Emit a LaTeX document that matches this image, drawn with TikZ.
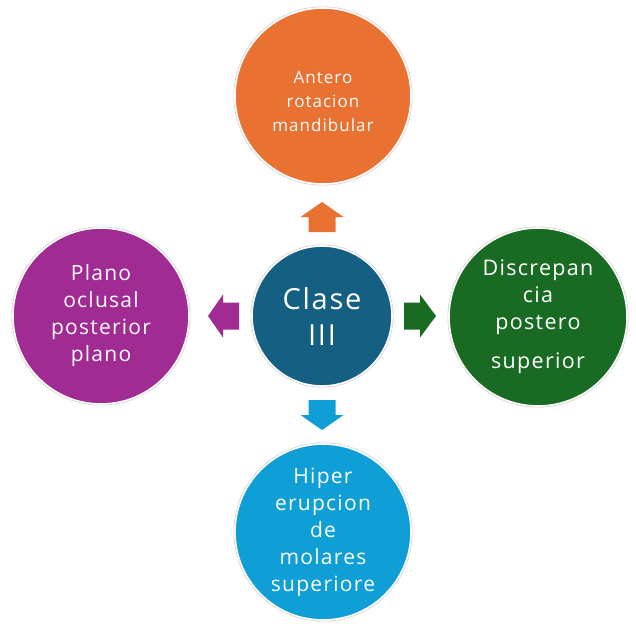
\documentclass[tikz,border=0pt]{standalone}
\usepackage{fontspec}
\setmainfont{Open Sans}[LetterSpace=6]
\definecolor{cOrange}{HTML}{E97132}
\definecolor{cNavy}{HTML}{156082}
\definecolor{cGreen}{HTML}{196B24}
\definecolor{cPurple}{HTML}{A02B93}
\definecolor{cSky}{HTML}{0F9ED5}
\tikzset{
  bubble/.style={circle, draw=white, line width=1.6pt, inner sep=0pt, text=white, align=center,
    preaction={draw=black!18, line width=3pt}},
}
\begin{document}
\begin{tikzpicture}[x=1pt,y=-1pt]
\useasboundingbox (0,0) rectangle (636,623);
% circles
\node[bubble, fill=cNavy, minimum size=140pt, font=\fontsize{29}{36}\selectfont] (c) at (322,316) {Clase\\III};
\node[bubble, fill=cOrange, minimum size=176pt] (t) at (323,96) {};
\node[text=white, align=center, font=\fontsize{17}{24}\selectfont] (tt) at (323,101) {Antero\\rotacion\\mandibular};
\node[bubble, fill=cPurple, minimum size=176pt, font=\fontsize{21}{27}\selectfont] (l) at (101,316) {Plano\\oclusal\\posterior\\plano};
\node[bubble, fill=cGreen, minimum size=178pt, font=\fontsize{21.5}{27}\selectfont] (r) at (538,317) {Discrepan\\cia\\postero\\[12pt]superior};
\node[bubble, fill=cSky, minimum size=176pt, font=\fontsize{21}{27}\selectfont] (b) at (323,532) {Hiper\\erupcion\\de\\molares\\superiore};
% block arrows
\fill[cOrange] (308.5,232) -- (308.5,217) -- (300.5,217) -- (322,202) -- (343.5,217) -- (335.5,217) -- (335.5,232) -- cycle;
\fill[cSky] (308.5,400) -- (308.5,415) -- (300.5,415) -- (322,430) -- (343.5,415) -- (335.5,415) -- (335.5,400) -- cycle;
\fill[cPurple] (239,302.5) -- (223,302.5) -- (223,294.5) -- (208,316) -- (223,337.5) -- (223,329.5) -- (239,329.5) -- cycle;
\fill[cGreen] (404,302.5) -- (420,302.5) -- (420,294.5) -- (436,316) -- (420,337.5) -- (420,329.5) -- (404,329.5) -- cycle;
\end{tikzpicture}
\end{document}
